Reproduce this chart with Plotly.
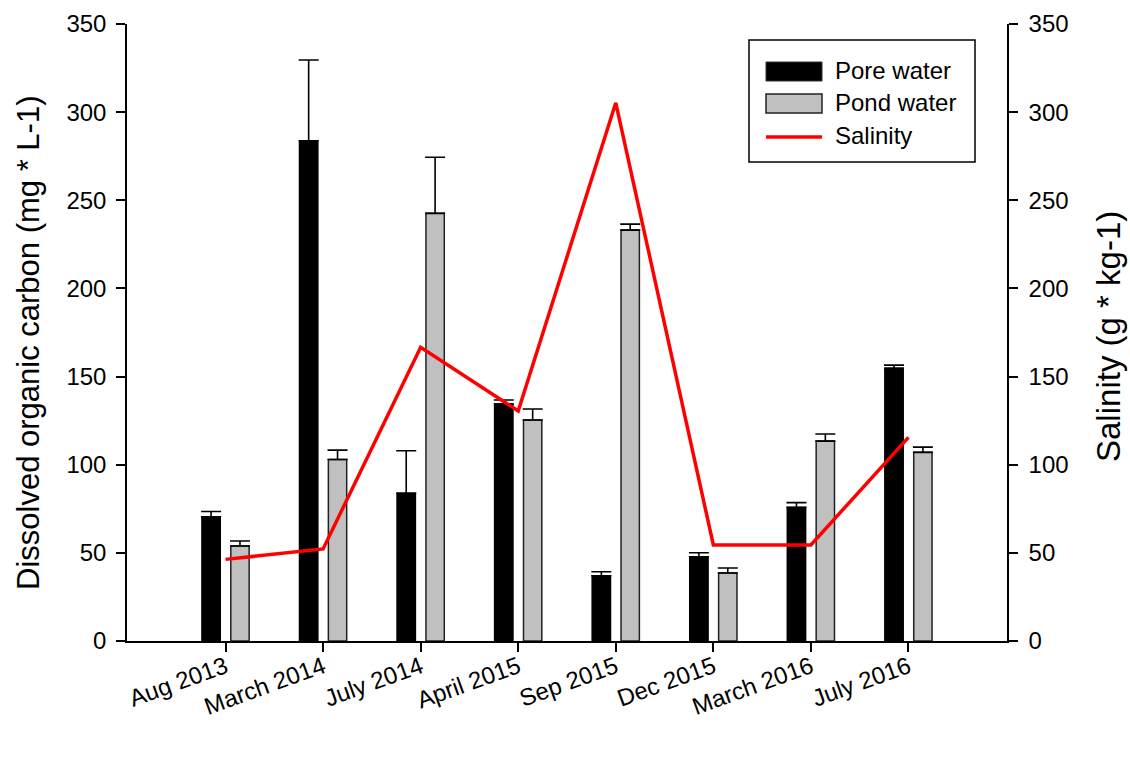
import plotly.graph_objects as go

# Sampling campaigns
dates = ["Aug 2013", "March 2014", "July 2014", "April 2015",
         "Sep 2015", "Dec 2015", "March 2016", "July 2016"]

# Dissolved organic carbon (mg * L-1), mean and upper error
pore_doc = [70.5, 283.8, 83.8, 134.4, 37.0, 47.8, 75.8, 154.7]
pore_err = [3.0, 45.8, 24.1, 2.3, 2.3, 2.3, 2.7, 1.8]
pond_doc = [53.9, 103.0, 242.6, 125.4, 233.1, 38.6, 113.4, 107.0]
pond_err = [2.8, 5.3, 31.8, 6.2, 3.4, 2.8, 4.0, 3.0]

# Salinity (g * kg-1)
salinity = [46.3, 52.2, 166.6, 130.5, 305.3, 54.5, 54.5, 115.5]

FONT = "Liberation Sans, Arial, sans-serif"
W, H = 1130, 765
ML, MR, MT, MB = 127, 123, 24, 124
PW, PH = W - ML - MR, H - MT - MB


def px(x):
    return (x - ML) / PW


def py(y):
    return (H - MB - y) / PH


fig = go.Figure()

fig.add_trace(go.Bar(
    x=dates, y=pore_doc, name="Pore water",
    marker=dict(color="black", line=dict(color="black", width=1.5)),
    error_y=dict(type="data", symmetric=False, array=pore_err,
                 arrayminus=[0] * len(pore_err), color="black",
                 thickness=1.6, width=10),
    showlegend=False,
))
fig.add_trace(go.Bar(
    x=dates, y=pond_doc, name="Pond water",
    marker=dict(color="#c0c0c0", line=dict(color="#222222", width=1.5)),
    error_y=dict(type="data", symmetric=False, array=pond_err,
                 arrayminus=[0] * len(pond_err), color="black",
                 thickness=1.6, width=10),
    showlegend=False,
))
fig.add_trace(go.Scatter(
    x=dates, y=salinity, name="Salinity", yaxis="y2",
    mode="lines", line=dict(color="#ff0000", width=3.5),
    showlegend=False,
))

axis_common = dict(
    showline=True, linecolor="black", linewidth=1.5,
    ticks="outside", ticklen=9, tickwidth=1.5, tickcolor="black",
    showgrid=False, zeroline=False, automargin=False,
    tickfont=dict(family=FONT, size=24, color="black"),
)

fig.update_layout(
    width=W, height=H,
    margin=dict(l=ML, r=MR, t=MT, b=MB, pad=0),
    paper_bgcolor="white", plot_bgcolor="white",
    barmode="group", bargap=0.408, bargroupgap=0.365,
    font=dict(family=FONT, color="black"),
    xaxis=dict(type="category", range=[-1.01, 8.01], tickangle=-20,
               ticklabelstandoff=-8, **axis_common),
    yaxis=dict(range=[0, 350], dtick=50, ticklabelstandoff=5,
               **axis_common),
    yaxis2=dict(range=[0, 350], dtick=50, overlaying="y", side="right",
                ticklabelstandoff=6, **axis_common),
)

# Axis titles
annotations = [
    dict(text="Dissolved organic carbon (mg * L-1)", textangle=-90,
         xref="paper", yref="paper", x=px(28), y=py(343),
         xanchor="center", yanchor="middle", showarrow=False,
         font=dict(family=FONT, size=31, color="black")),
    dict(text="Salinity (g * kg-1)", textangle=-90,
         xref="paper", yref="paper", x=px(1108), y=py(337),
         xanchor="center", yanchor="middle", showarrow=False,
         font=dict(family=FONT, size=33, color="black")),
]

# Legend box drawn in paper coordinates
shapes = [
    dict(type="rect", xref="paper", yref="paper",
         x0=px(749), x1=px(975), y0=py(162), y1=py(40),
         line=dict(color="black", width=1.5), fillcolor="white", layer="above"),
    dict(type="rect", xref="paper", yref="paper",
         x0=px(766), x1=px(822), y0=py(81), y1=py(62),
         line=dict(color="#333333", width=1), fillcolor="black", layer="above"),
    dict(type="rect", xref="paper", yref="paper",
         x0=px(766), x1=px(822), y0=py(113), y1=py(94),
         line=dict(color="#222222", width=1.5), fillcolor="#c0c0c0", layer="above"),
    dict(type="line", xref="paper", yref="paper",
         x0=px(766), x1=px(822), y0=py(137), y1=py(137),
         line=dict(color="#ff0000", width=3.5), layer="above"),
]
labels = [("Pore water", 70.5), ("Pond water", 102.5), ("Salinity", 136)]
annotations += [
    dict(text=t, xref="paper", yref="paper", x=px(833), y=py(yy),
         xanchor="left", yanchor="middle", showarrow=False,
         font=dict(family=FONT, size=24, color="black"))
    for t, yy in labels
]
fig.update_layout(shapes=shapes, annotations=annotations)

fig.write_html("out.html")
